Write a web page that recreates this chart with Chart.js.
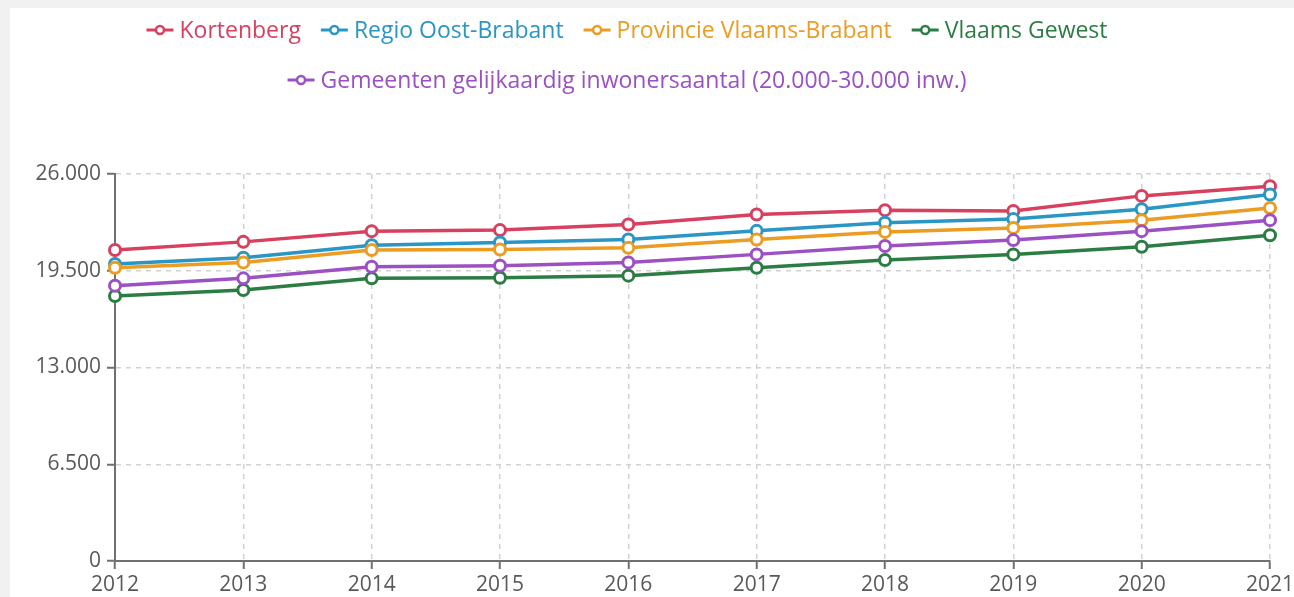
<!DOCTYPE html>
<html>
<head>
<meta charset="utf-8">
<script src="https://cdn.jsdelivr.net/npm/chart.js@4/dist/chart.umd.min.js"></script>
<style>
  html, body { margin: 0; padding: 0; background: #f1f1f1; }
  #wrap { position: absolute; left: 10px; top: 8px; width: 1284px; height: 589px; background: #ffffff; }
  canvas { display: block; }
</style>
</head>
<body>
<div id="wrap"><canvas id="c" width="1284" height="589"></canvas></div>
<script>
// Years on the x axis
const years = ['2012', '2013', '2014', '2015', '2016', '2017', '2018', '2019', '2020', '2021'];

// Series
const kortenberg    = [20890, 21440, 22160, 22230, 22610, 23280, 23570, 23520, 24530, 25180];
const regioOost     = [19950, 20370, 21220, 21400, 21600, 22180, 22720, 22970, 23630, 24620];
const provincieVB   = [19700, 20060, 20890, 20930, 21040, 21600, 22110, 22380, 22900, 23720];
const vlaamsGewest  = [17800, 18210, 18990, 19030, 19170, 19700, 20220, 20600, 21110, 21890];
const gelijkaardig  = [18500, 18990, 19770, 19840, 20060, 20600, 21160, 21560, 22160, 22900];

// Y axis ticks
const yTicks = [0, 6500, 13000, 19500, 26000];

const seriesNames = ['Kortenberg', 'Regio Oost-Brabant', 'Provincie Vlaams-Brabant', 'Vlaams Gewest',
  'Gemeenten gelijkaardig inwonersaantal (20.000-30.000 inw.)'];
const seriesColors = ['#d8405f', '#2a96c5', '#eb9c21', '#2c7d44', '#9b50c4'];
const seriesData = [kortenberg, regioOost, provincieVB, vlaamsGewest, gelijkaardig];
const legendRows = [[0, 1, 2, 3], [4]];

const FONT = '"Open Sans", sans-serif';

function fmt(v) {
  return String(Math.round(v)).replace(/\B(?=(\d{3})+(?!\d))/g, '.');
}

// Legend: line-and-ring symbol followed by coloured label, centred rows
const lineLegend = {
  id: 'lineLegend',
  afterDraw(chart) {
    const ctx = chart.ctx;
    const centerX = 617;
    const rowY = [22, 72];
    const symW = 27, gapSym = 6, gapItem = 20;
    ctx.save();
    ctx.font = '23px ' + FONT;
    ctx.textBaseline = 'middle';
    legendRows.forEach((row, r) => {
      const widths = row.map(i => symW + gapSym + ctx.measureText(seriesNames[i]).width);
      const total = widths.reduce((a, b) => a + b, 0) + gapItem * (row.length - 1);
      let x = centerX - total / 2;
      const y = rowY[r];
      row.forEach((i, k) => {
        const col = seriesColors[i];
        ctx.strokeStyle = col;
        ctx.lineWidth = 3;
        ctx.beginPath();
        ctx.moveTo(x, y);
        ctx.lineTo(x + symW, y);
        ctx.stroke();
        ctx.beginPath();
        ctx.arc(x + symW / 2, y, 4, 0, Math.PI * 2);
        ctx.fillStyle = '#ffffff';
        ctx.fill();
        ctx.lineWidth = 2.5;
        ctx.stroke();
        ctx.fillStyle = col;
        ctx.textAlign = 'left';
        ctx.fillText(seriesNames[i], x + symW + gapSym, y + 1);
        x += widths[k] + gapItem;
      });
    });
    ctx.restore();
  }
};

const datasets = seriesData.map((d, i) => ({
  label: seriesNames[i],
  data: d,
  borderColor: seriesColors[i],
  backgroundColor: '#ffffff',
  borderWidth: 3.5,
  pointRadius: 5.5,
  pointBorderWidth: 3,
  pointBackgroundColor: '#ffffff',
  pointBorderColor: seriesColors[i],
  tension: 0,
  clip: false,
  order: 10 - i
}));

new Chart(document.getElementById('c'), {
  type: 'line',
  data: { labels: years, datasets: datasets },
  options: {
    responsive: false,
    animation: false,
    devicePixelRatio: 1,
    layout: { padding: { top: 166, left: 0, right: 24, bottom: 0 } },
    plugins: { legend: { display: false }, tooltip: { enabled: false } },
    scales: {
      x: {
        type: 'category',
        offset: false,
        grid: { color: '#d2d2d2', lineWidth: 1.5, tickLength: 8, tickColor: '#707070', tickWidth: 2, tickBorderDash: [1, 0] },
        border: { color: '#707070', width: 2, dash: [5, 5] },
        ticks: { color: '#595959', font: { family: FONT, size: 21 }, padding: 3, maxRotation: 0 },
        afterFit(s) { s.height = 36; s.paddingRight = 0; s.paddingLeft = 0; }
      },
      y: {
        min: 0,
        max: 26000,
        afterBuildTicks(s) { s.ticks = yTicks.map(v => ({ value: v })); },
        grid: { color: '#d2d2d2', lineWidth: 1.5, tickLength: 8, tickColor: '#707070', tickWidth: 2, tickBorderDash: [1, 0] },
        border: { color: '#707070', width: 2, dash: [5, 5] },
        ticks: { color: '#595959', font: { family: FONT, size: 21 }, padding: 6, callback: v => fmt(v) },
        afterFit(s) { s.width = 105; }
      }
    }
  },
  plugins: [lineLegend]
});
</script>
</body>
</html>
